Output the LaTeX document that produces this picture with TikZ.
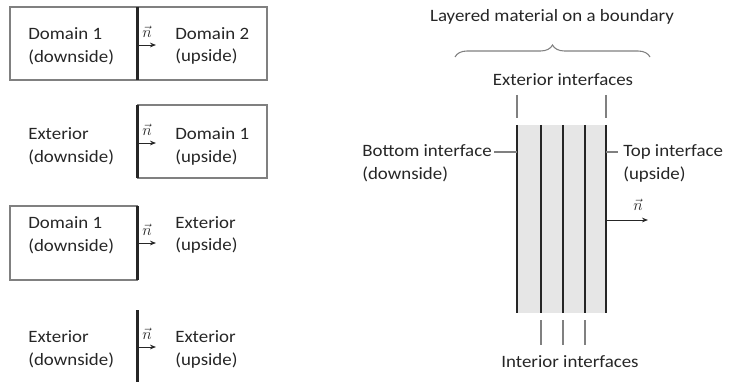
\documentclass[tikz,border=0pt]{standalone}
\usepackage{fontspec}
\setmainfont{Carlito}
\usetikzlibrary{arrows.meta,decorations.pathreplacing}
\definecolor{ink}{HTML}{262626}
\definecolor{dark}{HTML}{262626}
\definecolor{frame}{HTML}{808080}
\definecolor{layer}{HTML}{E6E6E6}
\tikzset{
  box/.style={draw=frame, line width=1pt},
  bnd/.style={draw=dark, line width=2.2pt},
  lay/.style={draw=dark, line width=1.4pt},
  tick/.style={draw=frame, line width=0.8pt},
  nvec/.style={-{Stealth[length=4.5pt,width=3.5pt]}, ink, line width=0.7pt},
  lab/.style={text=ink, font=\fontsize{13}{17}\selectfont, align=left, xscale=1.09, inner sep=0pt},
  nlab/.style={text=ink, font=\fontsize{13}{14}\selectfont, inner sep=0pt},
}
\begin{document}
\begin{tikzpicture}[x=0.75pt,y=-0.75pt]
  \useasboundingbox (0,0) rectangle (731,388);
  % boundary cases (left)
  \draw[box] (10,7) rectangle (267,80);
  \draw[box] (137.5,105) rectangle (267,178);
  \draw[box] (10,206) rectangle (137.5,280);
  \foreach \i/\ya/\yb/\ty/\ay/\dn/\up in {1/7/80/46/45/Domain 1/Domain 2,
      2/105/178/146.5/143/Exterior/Domain 1, 3/206/280/235/243/Domain 1/Exterior,
      4/310/382/349.5/347/Exterior/Exterior}{
    \draw[bnd] (137.5,\ya) -- (137.5,\yb);
    \node[lab, anchor=west] (dn\i) at (28,\ty) {\dn\\(downside)};
    \node[lab, anchor=west] (up\i) at (175,\ty) {\up\\(upside)};
    \coordinate (o\i) at (137.5,\ay);
    \coordinate (e\i) at (156,\ay);
    \draw[nvec] (o\i) -- (e\i);
    \node[nlab] (n\i) at (147,\ay-13) {$\vec{n}$};
  }

  % layered material (right)
  \node[lab] (title) at (552,17) {Layered material on a boundary};
  \coordinate (bl) at (455,57);
  \coordinate (br) at (650,57);
  \draw[tick, decorate, decoration={brace, amplitude=9pt}] (bl) -- (br);
  \node[lab] (ext) at (563,80) {Exterior interfaces};
  \fill[layer] (517,125) rectangle (606,313);
  \foreach \x in {517,541,563,585,606}{\draw[lay] (\x,125) -- (\x,313);}
  \foreach \x in {517,606}{\draw[tick] (\x,95) -- (\x,118);}
  \foreach \x in {541,563,585}{\draw[tick] (\x,320) -- (\x,345);}
  \draw[tick] (494,152) -- (517,152);
  \draw[tick] (606,152) -- (618,152);
  \node[lab, anchor=west] (bot) at (362,163.5) {Bottom interface\\(downside)};
  \node[lab, anchor=west] (top) at (623,163.5) {Top interface\\(upside)};
  \node[lab] (int) at (570,362) {Interior interfaces};
  \coordinate (o5) at (606,220);
  \coordinate (e5) at (648,220);
  \draw[nvec] (o5) -- (e5);
  \node[nlab] (n5) at (638,205) {$\vec{n}$};
\end{tikzpicture}
\end{document}
